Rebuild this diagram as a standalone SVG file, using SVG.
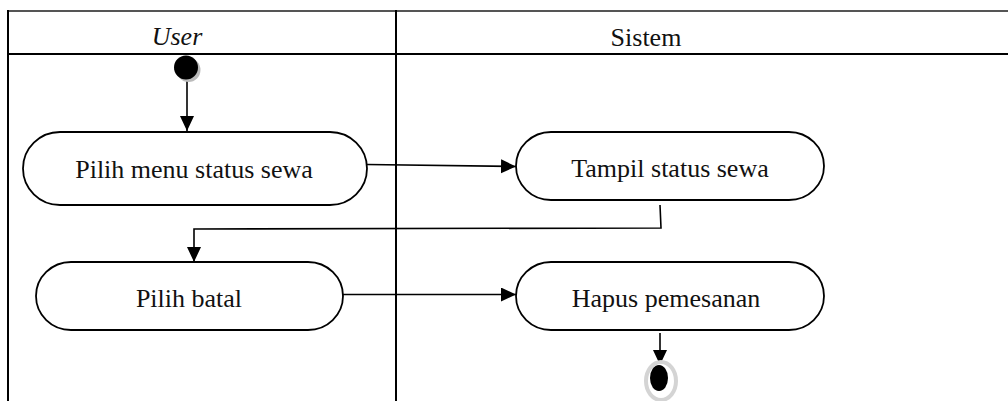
<svg xmlns="http://www.w3.org/2000/svg" width="1008" height="401" viewBox="0 0 1008 401">
<style>
.lane{stroke:#000;stroke-width:2;fill:none}
.node{fill:#fff;stroke:#000;stroke-width:1.8}
.lbl{font-family:'Liberation Serif','DejaVu Serif',serif;font-size:26px;fill:#111;text-anchor:middle}
.edge{stroke:#000;stroke-width:1.6;fill:none}
</style>
<defs>
<marker id="arr" markerUnits="userSpaceOnUse" markerWidth="16" markerHeight="16" viewBox="0 0 16 16" refX="15" refY="7" orient="auto">
<path d="M0,0 L15,7 L0,14 Z" fill="#000"/>
</marker>
</defs>
<rect width="1008" height="401" fill="#fff"/>
<g id="swimlanes">
<line x1="8" y1="11" x2="1008" y2="11" stroke="#555" stroke-width="1.8"/>
<line class="lane" x1="8" y1="54" x2="1008" y2="54" stroke-width="2.4"/>
<line class="lane" x1="8" y1="10" x2="8" y2="401"/>
<line class="lane" x1="396" y1="10" x2="396" y2="401"/>
<text class="lbl" x="177" y="45" font-style="italic" font-family="Liberation Serif, serif">User</text>
<text class="lbl" x="646" y="46" font-family="Liberation Serif, serif">Sistem</text>
</g>
<g id="connectors">
<line class="edge" x1="187" y1="78" x2="187" y2="131" marker-end="url(#arr)"/>
<line class="edge" x1="367" y1="164.5" x2="516" y2="166.5" marker-end="url(#arr)"/>
<polyline class="edge" points="660,205 661,228 194,229 194,262" marker-end="url(#arr)"/>
<line class="edge" x1="343" y1="294.5" x2="516" y2="294.5" marker-end="url(#arr)"/>
<line class="edge" x1="660" y1="333" x2="660" y2="365" marker-end="url(#arr)"/>
</g>
<g id="start">
<circle cx="188.5" cy="70" r="12" fill="#bbb"/>
<circle cx="186" cy="67.5" r="12" fill="#000"/>
</g>
<g id="n1">
<rect class="node" x="23" y="132" width="344" height="73" rx="37" ry="36.5"/>
<text class="lbl" x="194" y="178" font-family="Liberation Serif, serif">Pilih menu status sewa</text>
</g>
<g id="n2">
<rect class="node" x="516" y="132" width="308" height="68" rx="35" ry="34"/>
<text class="lbl" x="670" y="177" font-family="Liberation Serif, serif">Tampil status sewa</text>
</g>
<g id="n3">
<rect class="node" x="36" y="262" width="307" height="68" rx="35" ry="34"/>
<text class="lbl" x="189" y="307" font-family="Liberation Serif, serif">Pilih batal</text>
</g>
<g id="n4">
<rect class="node" x="516" y="262" width="308" height="68" rx="35" ry="34"/>
<text class="lbl" x="666" y="307" font-family="Liberation Serif, serif">Hapus pemesanan</text>
</g>
<g id="end">
<ellipse cx="661" cy="381" rx="15" ry="19" fill="#fff" stroke="#d4d4d4" stroke-width="4"/>
<ellipse cx="659" cy="378" rx="9" ry="13" fill="#000"/>
</g>
</svg>
